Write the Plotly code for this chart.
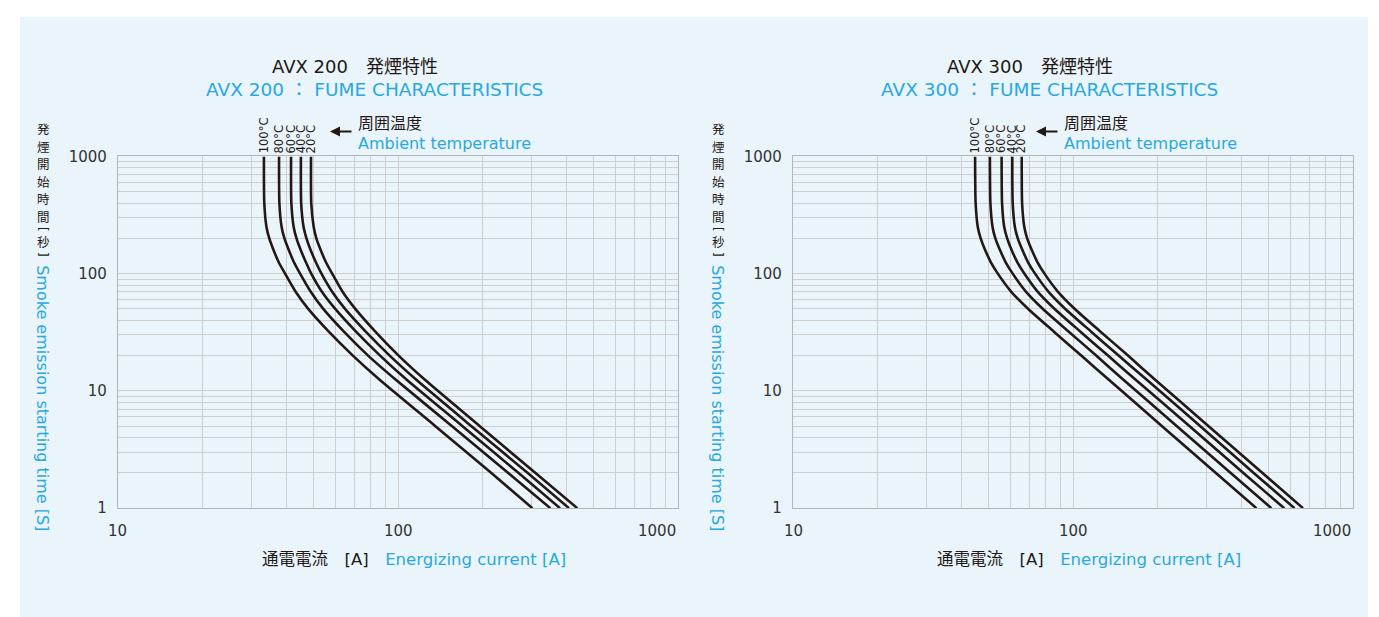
import math
import plotly.graph_objects as go

# ---- data ----
temps = ["100°C", "80°C", "60°C", "40°C", "20°C"]
t_vals = [1000, 400, 250, 200, 160, 125, 100, 70, 50, 32, 20, 12.5, 5, 2, 1]

# AVX 200: energizing current [A] at each time in t_vals
avx200_100C = [33.2, 33.3, 33.9, 34.7, 35.9, 37.5, 39.5, 43.1, 47.8, 56.6, 69.0, 85.8, 136, 215, 302]
avx200_80C = [37.6, 37.7, 38.4, 39.3, 40.7, 42.5, 44.7, 48.8, 54.1, 64.1, 78.2, 98.0, 156, 247, 350]
avx200_60C = [41.5, 41.6, 42.4, 43.4, 44.9, 46.9, 49.0, 53.5, 59.7, 70.8, 86.3, 107.2, 170, 269, 379]
avx200_40C = [45.0, 45.1, 46.0, 47.1, 48.7, 50.9, 53.3, 58.2, 64.7, 76.7, 93.4, 116, 183, 290, 408]
avx200_20C = [48.9, 49.0, 50.0, 51.1, 52.9, 55.3, 58.2, 63.4, 70.4, 83.0, 100.5, 124.5, 196, 309, 437]

# AVX 300
avx300_100C = [44.7, 44.9, 45.7, 46.8, 48.5, 50.9, 53.9, 60.2, 69.2, 85.5, 107, 134, 208, 323, 452]
avx300_80C = [50.5, 50.7, 51.6, 52.8, 54.8, 57.5, 60.9, 68.0, 78.1, 96.6, 121, 151, 235, 365, 511]
avx300_60C = [55.6, 55.8, 56.8, 58.2, 60.3, 63.3, 67.1, 74.9, 86.0, 106.3, 133.3, 167, 261, 405, 568]
avx300_40C = [60.7, 60.9, 62.0, 63.5, 65.9, 69.1, 73.2, 81.8, 93.9, 116.1, 145.5, 183, 285, 441, 618]
avx300_20C = [65.6, 65.8, 67.0, 68.6, 71.2, 74.7, 79.1, 88.4, 101.5, 125.4, 157.2, 196, 305, 474, 663]

x_tick_vals = [10, 100, 1000]
y_tick_vals = [1, 10, 100, 1000]
y_title_chars = ["発", "煙", "開", "始", "時", "間"]

# ---- styles ----
DARK = "#231815"
TICK = "#333333"
BLUE = "#29a8e0"
GRID = "#cfcfcf"
AXIS = "#b5b5b5"
PANEL = "#eaf4fb"
LFONT = "DejaVu Sans, Noto Sans CJK JP, sans-serif"
JFONT = "Noto Sans CJK JP, sans-serif"

# measured placement of the figure in the photographed page
LEFT = 8
TOP, VSCALE = 16.5, 0.9716
FW, FH = 1363, 618


def px(p):
    return (p - LEFT) / FW


def py(p):
    f = (p - TOP) / VSCALE
    return min(1.0, max(0.0, 1 - f / FH))


panels = [
    dict(xa="x", ya="y", xdom=(118, 678), model="AVX 200",
         curves=[avx200_100C, avx200_80C, avx200_60C, avx200_40C, avx200_20C]),
    dict(xa="x2", ya="y2", xdom=(793, 1353), model="AVX 300",
         curves=[avx300_100C, avx300_80C, avx300_60C, avx300_40C, avx300_20C]),
]
ytop, ybot = 156, 508

fig = go.Figure()
grid_x = [v * 10 ** k for k in (1, 2) for v in range(1, 10)] + [1000]
grid_y = [v * 10 ** k for k in (0, 1, 2) for v in range(1, 10)] + [1000]


def ann(x, y, text, font, xanchor="center", yanchor="middle", xref="paper", **kw):
    d = dict(x=x, y=y, xref=xref, yref="paper", text=text, showarrow=False,
             xanchor=xanchor, yanchor=yanchor, font=font)
    d.update(kw)
    return d


annotations = []
layout_axes = {}
for i, p in enumerate(panels):
    for name, vals in zip(temps, p["curves"]):
        fig.add_trace(go.Scatter(
            x=vals, y=t_vals, mode="lines", name=name,
            line=dict(color=DARK, width=2.6, shape="spline", smoothing=0.6),
            xaxis=p["xa"], yaxis=p["ya"], showlegend=False, hoverinfo="skip"))
    sfx = "" if i == 0 else "2"
    layout_axes["xaxis" + sfx] = dict(
        type="log", range=[1, 3], domain=[px(p["xdom"][0]), px(p["xdom"][1])],
        anchor="y" + sfx, tickvals=grid_x, ticktext=[""] * len(grid_x),
        showgrid=True, gridcolor=GRID, gridwidth=1, showline=True,
        linecolor=AXIS, linewidth=1.2, mirror=True, ticks="", zeroline=False)
    layout_axes["yaxis" + sfx] = dict(
        type="log", range=[0, 3], domain=[py(ybot), py(ytop)],
        anchor="x" + sfx, tickvals=grid_y,
        ticktext=[str(v) if v in y_tick_vals else "" for v in grid_y],
        tickfont=dict(family=LFONT, size=15, color=TICK),
        ticks="outside", ticklen=7, tickcolor="rgba(0,0,0,0)",
        showgrid=True, gridcolor=GRID, gridwidth=1, showline=True,
        linecolor=AXIS, linewidth=1.2, mirror=True, zeroline=False)

    off = p["xdom"][0] - 118
    # x tick labels
    for v in x_tick_vals:
        annotations.append(ann(math.log10(v), py(531), str(v),
                               dict(family=LFONT, size=15, color=TICK),
                               xanchor="right" if v == 1000 else "center", xref=p["xa"]))
    # titles
    annotations.append(ann(px(355 + off), py(66), p["model"] + "　発煙特性",
                           dict(family=LFONT, size=18, color=DARK)))
    annotations.append(ann(px(374 + off), py(89), p["model"] + " ： FUME CHARACTERISTICS",
                           dict(family=LFONT, size=18.5, color=BLUE)))
    # x axis title
    annotations.append(ann(
        px(414 + off), py(559),
        "<span style='color:%s'>通電電流　[A]</span>　<span style='color:%s'>Energizing current [A]</span>" % (DARK, BLUE),
        dict(family=LFONT, size=16.5, color=DARK)))
    # y axis titles: vertical (upright) Japanese, then rotated English
    for k, ch in enumerate(y_title_chars):
        annotations.append(ann(px(43 + off), py(128 + 17.6 * k), ch,
                               dict(family=JFONT, size=12.5, color=DARK)))
    annotations.append(ann(px(43 + off), py(228.5), "[",
                           dict(family=LFONT, size=13, color=DARK), textangle=90))
    annotations.append(ann(px(43 + off), py(241), "秒",
                           dict(family=JFONT, size=12.5, color=DARK)))
    annotations.append(ann(px(43 + off), py(253.5), "]",
                           dict(family=LFONT, size=13, color=DARK), textangle=90))
    annotations.append(ann(px(43 + off), py(398), "Smoke emission starting time [S]",
                           dict(family=LFONT, size=16, color=BLUE), textangle=90))
    # temperature labels above curves
    for name, vals in zip(temps, p["curves"]):
        annotations.append(ann(math.log10(vals[0]), py(155), name,
                               dict(family=LFONT, size=11.5, color=DARK),
                               yanchor="bottom", xref=p["xa"], textangle=-90))
    # arrow + ambient temperature text
    tip = 330 if i == 0 else 1036
    annotations.append(dict(x=px(tip), y=py(131), xref="paper", yref="paper",
                            ax=23, ay=0, text="", showarrow=True, arrowhead=2,
                            arrowsize=1, arrowwidth=2, arrowcolor=DARK))
    annotations.append(ann(px(tip + 26), py(122), "周囲温度",
                           dict(family=JFONT, size=16, color=DARK), xanchor="left"))
    annotations.append(ann(px(tip + 26), py(143), "Ambient temperature",
                           dict(family=LFONT, size=16, color=BLUE), xanchor="left"))

fig.update_layout(
    width=FW, height=FH, margin=dict(l=0, r=0, t=0, b=0),
    paper_bgcolor="white", plot_bgcolor="white",
    showlegend=False, annotations=annotations,
    shapes=[dict(type="rect", xref="paper", yref="paper", x0=px(20), x1=px(1368),
                 y0=0, y1=py(10), fillcolor=PANEL, line=dict(width=0), layer="below")],
    **layout_axes)

fig.write_html("out.html")
